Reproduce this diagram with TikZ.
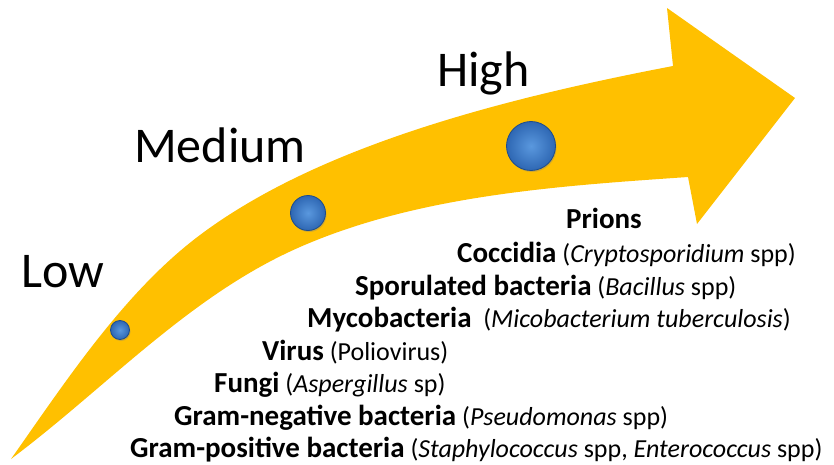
\documentclass[tikz,border=0pt]{standalone}
\usepackage{fontspec}
\setmainfont{Carlito}
\usetikzlibrary{shadows}
\definecolor{arrowgold}{HTML}{FFC000}
\definecolor{dotblue}{HTML}{2E67B3}
\definecolor{dotlight}{HTML}{5A98DE}
\definecolor{dotrim}{HTML}{1D4C8C}
\newcommand{\germ}[1]{{\fontsize{29}{34}\selectfont\bfseries #1}}
\tikzset{
  level/.style={anchor=base west, inner sep=0pt, font=\fontsize{50}{60}\selectfont},
  agent/.style={anchor=base west, inner sep=0pt, font=\fontsize{26}{32}\selectfont},
  dot/.style={circle, inner sep=0pt, draw=dotrim, line width=0.8pt,
    inner color=dotlight, outer color=dotblue,
    drop shadow={shadow xshift=1pt, shadow yshift=-1.5pt, opacity=0.35}},
}

\begin{document}
\begin{tikzpicture}[x=1pt, y=-1pt]
  \useasboundingbox (0,0) rectangle (834,465);
  \coordinate (T) at (11,459);
  \coordinate (M1) at (200,235);
  \coordinate (U) at (673,66);
  \coordinate (B1) at (667,8);
  \coordinate (P) at (795,98);
  \coordinate (B2) at (697,224);
  \coordinate (L) at (688,177);
  \coordinate (M2) at (300,247);

  \fill[arrowgold] (T) .. controls (66,381) and (124,292) .. (M1)
    .. controls (320,145) and (506,98) .. (U)
    -- (B1) -- (P) -- (B2) -- (L)
    .. controls (558,186) and (419,195) .. (M2)
    .. controls (190,295) and (107,387) .. (T) -- cycle;

  \node[dot, minimum size=19pt] (lowdot) at (120,330) {};
  \node[dot, minimum size=35pt] (meddot) at (308,213) {};
  \node[dot, minimum size=49pt] (highdot) at (531,146) {};

  \node[level] (low)    at (21,287)  {Low};
  \node[level] (medium) at (134,163) {Medium};
  \node[level] (high)   at (437,87)  {High};

  \node[agent] (prions)   at (566,228) {\germ{Prions}};
  \node[agent] (coccidia) at (457,262) {\germ{Coccidia} (\textit{Cryptosporidium} spp)};
  \node[agent] (sporul)   at (355,295) {\germ{Sporulated bacteria} (\textit{Bacillus} spp)};
  \node[agent] (myco)     at (307,327) {\germ{Mycobacteria}\ \ (\textit{Micobacterium tuberculosis})};
  \node[agent] (virus)    at (262,360) {\germ{Virus} (Poliovirus)};
  \node[agent] (fungi)    at (214,392) {\germ{Fungi} (\textit{Aspergillus} sp)};
  \node[agent] (gramneg)  at (174,425) {\germ{Gram-negative bacteria} (\textit{Pseudomonas} spp)};
  \node[agent] (grampos)  at (130,457) {\germ{Gram-positive bacteria} (\textit{Staphylococcus} spp, \textit{Enterococcus} spp)};
\end{tikzpicture}
\end{document}
